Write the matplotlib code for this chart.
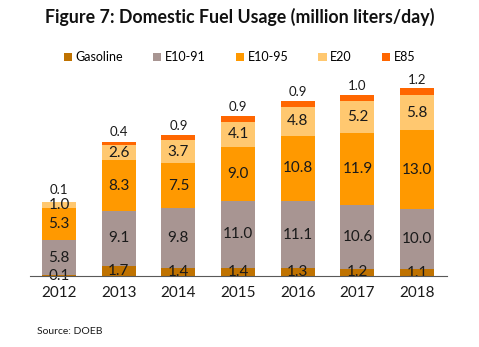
import numpy as np
import matplotlib.pyplot as plt

plt.rcParams['font.family'] = ['Lato', 'DejaVu Sans']

years = ['2012', '2013', '2014', '2015', '2016', '2017', '2018']
series = ['Gasoline', 'E10-91', 'E10-95', 'E20', 'E85']
gasoline = [0.1, 1.7, 1.4, 1.4, 1.3, 1.2, 1.1]
e10_91 = [5.8, 9.1, 9.8, 11.0, 11.1, 10.6, 10.0]
e10_95 = [5.3, 8.3, 7.5, 9.0, 10.8, 11.9, 13.0]
e20 = [1.0, 2.6, 3.7, 4.1, 4.8, 5.2, 5.8]
e85 = [0.1, 0.4, 0.9, 0.9, 0.9, 1.0, 1.2]
colors = ['#BF7200', '#A89592', '#FF9900', '#FFC870', '#FF6600']

fig = plt.figure(figsize=(4.79, 3.47), dpi=100)
ax = fig.add_axes([0.0626, 0.2046, 0.8706, 0.5764])

x = np.arange(len(years))
bottom = np.zeros(len(years))
for name, vals, c in zip(series, [gasoline, e10_91, e10_95, e20, e85], colors):
    vals = np.array(vals)
    ax.bar(x, vals, 0.57, bottom=bottom, color=c, label=name, zorder=2)
    for xi, b, v in zip(x, bottom, vals):
        if name == 'E85':
            ax.annotate(f'{v:.1f}', (xi, b + v / 2), xytext=(0, 8.5),
                        textcoords='offset points', ha='center', va='center',
                        fontsize=9.5, color='#1a1a1a')
        else:
            ax.text(xi, b + v / 2, f'{v:.1f}', ha='center', va='center',
                    fontsize=11, color='#1a1a1a', zorder=3)
    bottom += vals

ax.set_xlim(-0.486, 6.5)
ax.set_ylim(0, 33.06)
ax.set_xticks(x)
ax.set_xticklabels(years, fontsize=11, color='#1a1a1a')
ax.tick_params(axis='x', length=0, pad=7)
ax.set_yticks([])
for s in ['top', 'right', 'left']:
    ax.spines[s].set_visible(False)
ax.spines['bottom'].set_color('#595959')
ax.spines['bottom'].set_zorder(4)

fig.text(0.5, 0.95, 'Figure 7: Domestic Fuel Usage (million liters/day)',
         ha='center', va='center', fontsize=12.8, fontweight='bold', color='#111111')
fig.legend(loc='center', bbox_to_anchor=(0.5, 0.835), ncol=5, frameon=False,
           fontsize=9, handlelength=0.65, handleheight=0.65, handletextpad=0.3,
           columnspacing=2.4)
fig.text(0.077, 0.045, 'Source: DOEB', fontsize=7.5, va='center', color='#1a1a1a')

fig.savefig('out.png', dpi=100)
